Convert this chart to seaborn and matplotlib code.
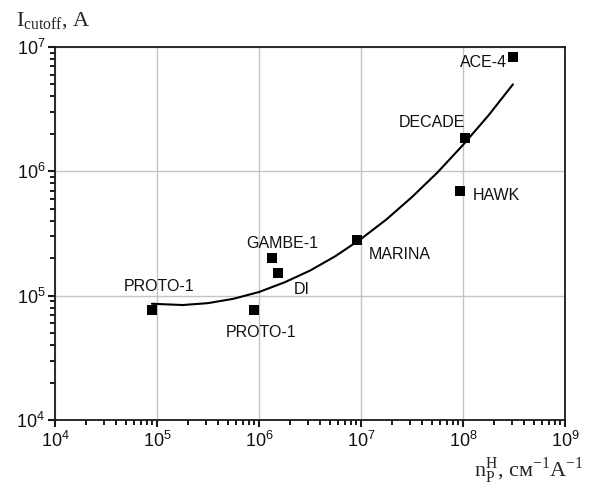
import matplotlib
matplotlib.use("Agg")
import matplotlib.pyplot as plt
import matplotlib.ticker as mticker
import seaborn as sns
import pandas as pd

# experiment points
names = ["PROTO-1", "PROTO-1", "GAMBE-1", "DI", "MARINA", "DECADE", "HAWK", "ACE-4"]
n_p = [8.9e4, 8.9e5, 1.34e6, 1.53e6, 9.1e6, 1.05e8, 9.4e7, 3.1e8]
i_cut = [7.6e4, 7.6e4, 2.0e5, 1.53e5, 2.8e5, 1.85e6, 7.0e5, 8.3e6]
# label offsets in pixels (dx, dy)
label_dx = [7, 7, 10, 24, 43, -33, 36, -30]
label_dy = [24, -22, 15, -17, -14, 16, -5, -5]

# fitted curve
curve_x = [8.91e4, 1.78e5, 3.16e5, 5.62e5, 1.0e6, 1.78e6, 3.16e6, 5.62e6, 1.0e7,
           1.78e7, 3.16e7, 5.62e7, 1.0e8, 1.78e8, 3.09e8]
curve_y = [8.61e4, 8.41e4, 8.71e4, 9.44e4, 1.07e5, 1.28e5, 1.59e5, 2.08e5, 2.86e5,
           4.11e5, 6.21e5, 9.79e5, 1.63e6, 2.82e6, 5.01e6]

pts = pd.DataFrame({"n": n_p, "I": i_cut, "name": names})
curve = pd.DataFrame({"n": curve_x, "I": curve_y})

sns.set_style("ticks")
plt.rcParams["font.family"] = ["Liberation Sans", "DejaVu Sans"]

fig = plt.figure(figsize=(5.9, 4.88), dpi=100)
ax = fig.add_axes([0.0932, 0.1393, 0.8644, 0.7644])

sns.lineplot(data=curve, x="n", y="I", color="black", linewidth=1.5, ax=ax, sort=False)
sns.scatterplot(data=pts, x="n", y="I", color="black", marker="s", s=42,
                edgecolor="black", linewidth=0, ax=ax, zorder=5)

ax.set_xscale("log")
ax.set_yscale("log")
ax.set_xlim(1e4, 1e9)
ax.set_ylim(1e4, 1e7)
ax.set_xlabel("")
ax.set_ylabel("")
for axis in (ax.xaxis, ax.yaxis):
    axis.set_major_locator(mticker.LogLocator(base=10, numticks=12))
    axis.set_minor_locator(mticker.LogLocator(base=10, subs=[2, 3, 4, 5, 6, 7, 8, 9], numticks=12))
    axis.set_minor_formatter(mticker.NullFormatter())

ax.grid(True, which="major", color="#c4c4c4", linewidth=1, zorder=0)
for sp in ax.spines.values():
    sp.set_visible(True)
    sp.set_color("#1a1a1a")
    sp.set_linewidth(1.3)

ax.tick_params(which="both", direction="out", bottom=True, left=True,
               top=False, right=False, color="#1a1a1a", labelcolor="#111111",
               labelsize=13)
ax.tick_params(which="major", length=5, width=1.5)
ax.tick_params(which="minor", length=3.5, width=1.4)
ax.tick_params(axis="x", pad=3)
ax.tick_params(axis="y", pad=2)

for name, x, y, dx, dy in zip(names, n_p, i_cut, label_dx, label_dy):
    ax.annotate(name, (x, y), xytext=(dx, dy), textcoords="offset pixels",
                ha="center", va="center", fontsize=11.5, color="#111111")

fig.text(0.027, 0.945, "I$_{\\mathdefault{cutoff}}$, A", family="Liberation Serif",
         fontsize=16, ha="left", va="baseline")
fig.text(0.99, 0.022, "n$_{\\mathdefault{P}}^{\\mathdefault{H}}$, см$^{\\mathdefault{-1}}$A$^{\\mathdefault{-1}}$",
         family="Liberation Serif", fontsize=16, ha="right", va="baseline")

fig.savefig("out.png", dpi=100)
